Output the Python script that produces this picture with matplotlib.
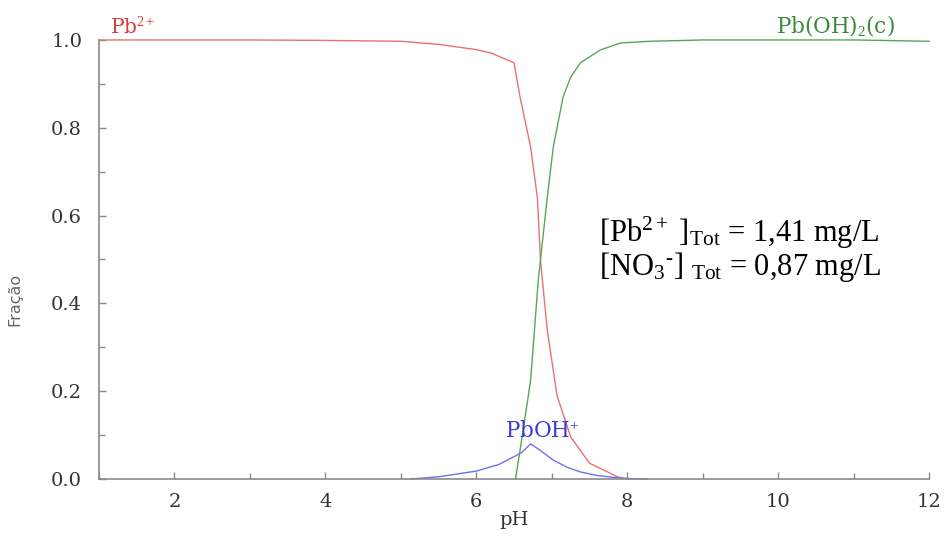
import numpy as np
import matplotlib
matplotlib.use("Agg")
import matplotlib.pyplot as plt
from matplotlib.ticker import MultipleLocator, FormatStrFormatter

# fractions
ph_pb2 = [1, 2, 3, 4, 5, 5.5, 6.0, 6.2, 6.5, 6.58, 6.72, 6.81, 6.85, 6.94,
          7.07, 7.25, 7.5, 7.87, 8.0]
frac_pb2 = [1.0, 1.0, 1.0, 0.999, 0.997, 0.99, 0.978, 0.97, 0.948, 0.87,
            0.756, 0.64, 0.5, 0.34, 0.19, 0.096, 0.036, 0.005, 0.0]

ph_oh2 = [6.52, 6.62, 6.72, 6.82, 6.87, 6.94, 7.02, 7.15, 7.25, 7.38, 7.64,
          7.91, 8.3, 9, 10, 11, 12]
frac_oh2 = [0.0, 0.11, 0.225, 0.45, 0.53, 0.64, 0.756, 0.87, 0.915, 0.948,
            0.977, 0.993, 0.997, 1.0, 1.0, 1.0, 0.997]

ph_pboh = [5.13, 5.5, 6.0, 6.3, 6.6, 6.72, 6.85, 7.02, 7.2, 7.38, 7.6, 7.8,
           8.0, 8.27]
frac_pboh = [0.0, 0.005, 0.018, 0.033, 0.06, 0.08, 0.065, 0.043, 0.027,
             0.016, 0.008, 0.004, 0.001, 0.0]

plt.rcParams['mathtext.fontset'] = 'custom'
plt.rcParams['mathtext.rm'] = 'Liberation Serif'
plt.rcParams['mathtext.it'] = 'Liberation Serif:italic'

fig = plt.figure(figsize=(9.51, 5.40), dpi=100)
ax = fig.add_axes([0.104, 0.113, 0.873, 0.813])

ax.plot(ph_pb2, frac_pb2, color='#ec7070', lw=1.0, clip_on=False)
ax.plot(ph_oh2, frac_oh2, color='#56a856', lw=1.0, clip_on=False)
ax.plot(ph_pboh, frac_pboh, color='#7070ea', lw=1.0, clip_on=False)

ax.set_xlim(1, 12)
ax.set_ylim(0, 1.0)
ax.xaxis.set_major_locator(MultipleLocator(2))
ax.xaxis.set_minor_locator(MultipleLocator(1))
ax.yaxis.set_major_locator(MultipleLocator(0.2))
ax.yaxis.set_minor_locator(MultipleLocator(0.1))
ax.yaxis.set_major_formatter(FormatStrFormatter('%.1f'))

for s in ['top', 'right']:
    ax.spines[s].set_visible(False)
for s in ['left', 'bottom']:
    ax.spines[s].set_color('#8a8a8a')
    ax.spines[s].set_linewidth(1.2)

ax.tick_params(which='both', direction='in', color='#8a8a8a', width=1)
ax.tick_params(axis='x', which='major', length=5, pad=10)
ax.tick_params(axis='y', which='major', length=5, pad=12)
ax.tick_params(which='minor', length=4)
for lab in ax.get_xticklabels() + ax.get_yticklabels():
    lab.set_fontfamily('DejaVu Serif')
    lab.set_fontsize(14)
    lab.set_color('#333333')

ax.set_xlabel('pH', family='DejaVu Serif', fontsize=14, color='#333333',
              labelpad=0)
ax.set_ylabel('Fração', family='DejaVu Sans', fontsize=11.5, color='#666666')
ax.yaxis.set_label_coords(-0.092, 0.41)

# species labels
ax.text(1.15, 1.013, r'Pb$^{2+}$', color='#d83c3c', fontsize=14.5,
        family='DejaVu Serif', va='baseline', ha='left')
ax.text(11.55, 1.017, r'Pb(OH)$_{2}$(c)', color='#3a8a3a', fontsize=15.5,
        family='DejaVu Serif', va='baseline', ha='right')
ax.text(6.87, 0.096, r'PbOH$^{+}$', color='#3a3ad0', fontsize=15.5,
        family='DejaVu Serif', va='baseline', ha='center')

# concentration note
ax.text(7.62, 0.540, r'[Pb$^{2+}$ ]$_{\mathrm{Tot}}$ = 1,41 mg/L',
        family='Liberation Serif', fontsize=22, color='black',
        va='baseline', ha='left')
ax.text(7.62, 0.465, r'[NO$_3$$^{\text{-}}$] $_{\mathrm{Tot}}$ = 0,87 mg/L',
        family='Liberation Serif', fontsize=22, color='black',
        va='baseline', ha='left')

fig.savefig('out.png', dpi=100)
